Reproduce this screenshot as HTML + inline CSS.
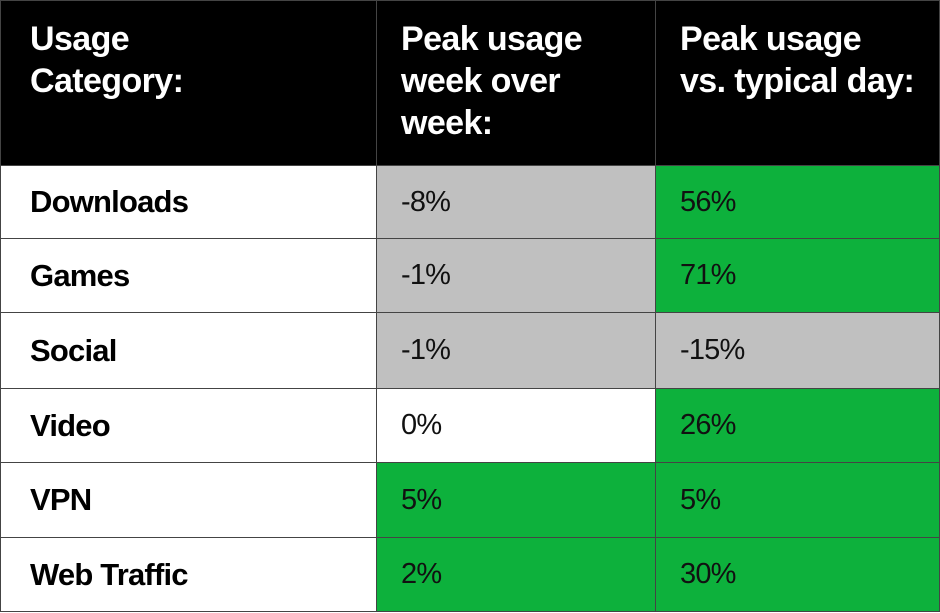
<!DOCTYPE html>
<html><head><meta charset="utf-8"><style>
body{margin:0;width:940px;height:613px;background:#fff;overflow:hidden;font-family:"Liberation Sans",sans-serif;}
.c{position:absolute;box-sizing:border-box;border:1px solid #444;}
.h{background:#000;color:#fff;font-weight:bold;font-size:34px;line-height:42px;padding:17px 0 0 24px;letter-spacing:-0.6px}
.t{display:flex;align-items:center;font-size:29px;color:#111;padding-left:24px;letter-spacing:-0.8px}
.b{font-weight:bold;padding-left:29px;color:#000;font-size:31px;letter-spacing:-0.8px}
.g{background:#0db13c}.s{background:#c0c0c0}.w{background:#fff}
</style></head><body>
<div class="c h" style="left:0;top:0;width:377px;height:166px;padding-left:29px">Usage<br>Category:</div>
<div class="c h" style="left:376px;top:0;width:280px;height:166px">Peak usage<br>week over<br>week:</div>
<div class="c h" style="left:655px;top:0;width:285px;height:166px">Peak usage<br>vs. typical day:</div>
<div id="rows"></div>
<script>
const cats=["Downloads","Games","Social","Video","VPN","Web Traffic"];
const week=["-8%","-1%","-1%","0%","5%","2%"];
const typ=["56%","71%","-15%","26%","5%","30%"];
const tops=[165,238,312,388,462,537,611];
function cls(v){const n=parseFloat(v);return n>0?"g":n<0?"s":"w";}
const r=document.getElementById('rows');
cats.forEach((c,i)=>{
  const h=tops[i+1]-tops[i]+1;
  [[0,377,c,"w b"],[376,280,week[i],cls(week[i])],[655,285,typ[i],cls(typ[i])]].forEach((d,j)=>{
    const el=document.createElement('div');
    el.className="c t "+d[3];
    el.style.cssText=`left:${d[0]}px;top:${tops[i]}px;width:${d[1]}px;height:${h}px`;
    el.textContent=d[2];
    
    
    r.appendChild(el);
  });
});
</script>
</body></html>
